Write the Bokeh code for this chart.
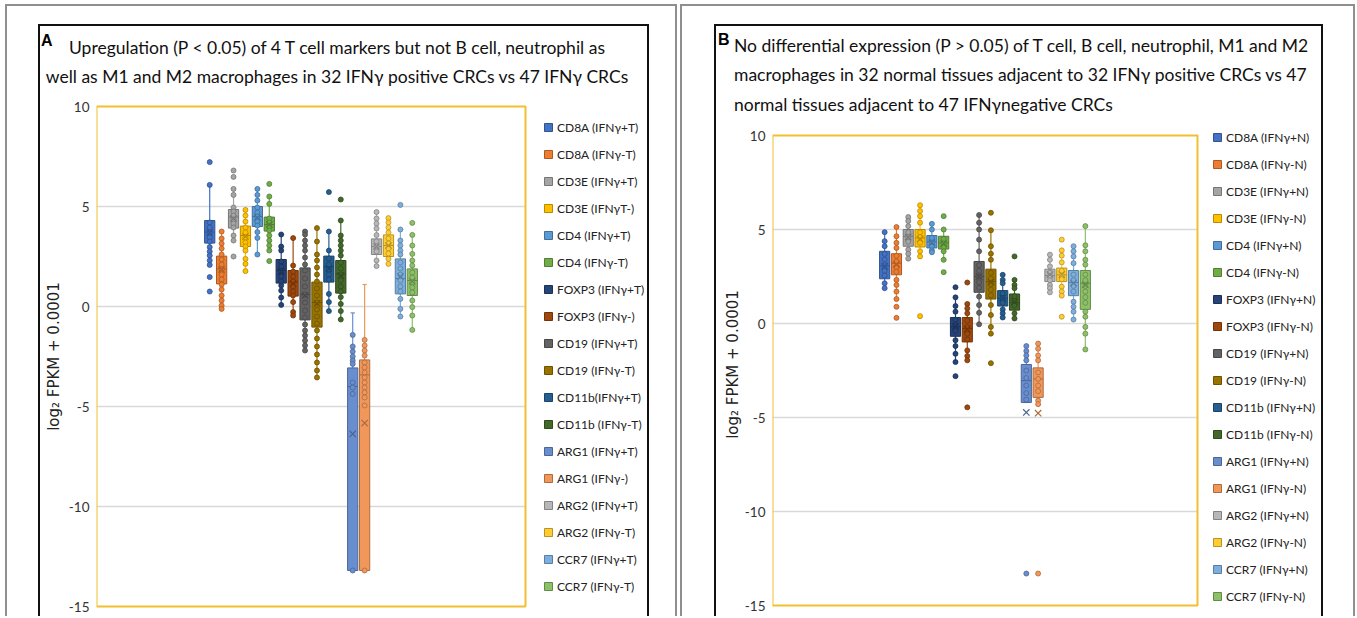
from bokeh.plotting import figure
from bokeh.models import Range1d, Legend, LegendItem, FixedTicker, Div
from bokeh.layouts import row, column
from bokeh.embed import file_html
from bokeh.resources import INLINE

# ---------------- data ----------------
colors = ["#4472C4", "#ED7D31", "#A5A5A5", "#FFC000", "#5B9BD5", "#70AD47",
          "#264478", "#9E480E", "#636363", "#997300", "#255E91", "#43682B",
          "#698ED0", "#F1975A", "#B7B7B7", "#FFCD33", "#7CAFDD", "#8CC168"]

labels_a = ["CD8A (IFNγ+T)", "CD8A (IFNγ-T)", "CD3E (IFNγ+T)", "CD3E (IFNγT-)",
            "CD4 (IFNγ+T)", "CD4 (IFNγ-T)", "FOXP3 (IFNγ+T)", "FOXP3 (IFNγ-)",
            "CD19 (IFNγ+T)", "CD19 (IFNγ-T)", "CD11b(IFNγ+T)", "CD11b (IFNγ-T)",
            "ARG1 (IFNγ+T)", "ARG1 (IFNγ-)", "ARG2 (IFNγ+T)", "ARG2 (IFNγ-T)",
            "CCR7 (IFNγ+T)", "CCR7 (IFNγ-T)"]
low_a = [2.08, -0.12, 3.3, 1.77, 2.6, 2.8, 0.08, -0.45, -2.2, -3.55, -0.23, -0.65,
         -13.2, -13.2, 2.02, 2.13, -0.5, -1.17]
q1_a = [3.17, 1.13, 3.92, 3.0, 4.0, 3.77, 1.17, 0.52, -0.67, -1.03, 1.22, 0.67,
        -13.2, -13.2, 2.6, 2.5, 0.63, 0.55]
med_a = [3.72, 1.88, 4.47, 3.55, 4.5, 4.1, 1.8, 1.22, 0.6, 0.2, 1.97, 1.63,
         -4.0, -3.42, 3.0, 3.05, 1.4, 1.3]
q3_a = [4.3, 2.52, 4.85, 4.02, 5.0, 4.47, 2.35, 1.8, 1.93, 1.22, 2.52, 2.3,
        -3.07, -2.67, 3.38, 3.58, 2.38, 1.88]
high_a = [6.08, 3.75, 5.88, 4.83, 5.88, 5.5, 3.6, 3.42, 3.75, 3.92, 3.75, 4.3,
          -0.32, 1.1, 4.72, 4.42, 3.85, 3.58]
mean_a = [3.7, 1.85, 4.4, 3.5, 4.45, 4.1, 1.75, 1.15, 0.55, 0.15, 1.9, 1.55,
          -6.37, -5.83, 3.0, 3.05, 1.5, 1.25]
points_a = [
    [7.22, 6.08, 4.2, 3.95, 3.7, 3.45, 3.25, 2.97, 2.75, 2.55, 2.3, 2.08, 1.47, 0.75],
    [3.75, 3.4, 3.15, 2.9, 2.6, 2.35, 2.1, 1.85, 1.6, 1.35, 1.1, 0.85, 0.55, 0.3, 0.05, -0.12],
    [6.8, 6.48, 5.88, 5.58, 4.95, 4.75, 4.55, 4.35, 4.15, 3.95, 3.55, 3.3, 2.5],
    [4.83, 4.55, 4.25, 3.95, 3.7, 3.45, 3.2, 3.0, 2.8, 2.38, 2.13, 1.77],
    [5.88, 5.58, 5.3, 4.95, 4.7, 4.5, 4.25, 4.05, 3.72, 3.43, 2.6],
    [6.13, 5.5, 5.13, 4.4, 4.2, 4.0, 3.8, 3.55, 3.3, 3.05, 2.8, 2.27],
    [3.6, 3.0, 2.8, 2.25, 2.0, 1.75, 1.5, 1.25, 1.05, 0.8, 0.45, 0.08],
    [3.42, 2.05, 1.75, 1.5, 1.25, 1.0, 0.75, 0.55, 0.22, -0.28, -0.45],
    [3.75, 3.6, 3.3, 3.05, 2.8, 2.45, 2.1, 1.8, 1.4, 1.0, 0.6, 0.2, -0.2, -0.55,
     -0.9, -1.2, -1.45, -1.7, -1.95, -2.2],
    [3.92, 3.25, 2.6, 2.3, 1.95, 1.6, 1.25, 0.9, 0.55, 0.2, -0.15, -0.5, -0.85,
     -1.2, -1.6, -2.0, -2.4, -2.8, -3.2, -3.55],
    [5.72, 3.75, 2.8, 2.4, 2.1, 1.85, 1.6, 1.35, 0.63, 0.22, -0.23],
    [5.35, 4.3, 3.55, 3.3, 3.05, 2.8, 2.55, 2.2, 1.9, 1.6, 1.3, 1.0, 0.75, 0.47,
     0.13, -0.23, -0.65],
    [-1.42, -2.0, -2.25, -2.5, -2.7, -2.87, -3.8, -4.05, -4.37, -13.2],
    [-1.67, -1.95, -2.2, -2.45, -2.8, -3.05, -3.3, -3.55, -3.8, -4.05, -4.3, -4.55,
     -4.95, -13.2],
    [4.72, 4.4, 4.15, 3.9, 3.57, 3.25, 3.0, 2.75, 2.3, 2.02],
    [4.42, 4.2, 3.95, 3.7, 3.4, 3.15, 2.9, 2.65, 2.38, 2.13],
    [5.08, 3.85, 3.3, 3.05, 2.8, 2.6, 2.2, 1.9, 1.6, 1.3, 1.0, 0.75, 0.38, -0.12, -0.5],
    [4.18, 3.58, 3.05, 2.63, 2.3, 2.05, 1.7, 1.45, 1.2, 0.95, 0.7, 0.3, -0.03, -0.45, -1.17],
]

labels_b = ["CD8A (IFNγ+N)", "CD8A (IFNγ-N)", "CD3E (IFNγ+N)", "CD3E (IFNγ-N)",
            "CD4 (IFNγ+N)", "CD4 (IFNγ-N)", "FOXP3 (IFNγ+N)", "FOXP3 (IFNγ-N)",
            "CD19 (IFNγ+N)", "CD19 (IFNγ-N)", "CD11b (IFNγ+N)", "CD11b (IFNγ-N)",
            "ARG1 (IFNγ+N)", "ARG1 (IFNγ-N)", "ARG2 (IFNγ+N)", "ARG2 (IFNγ-N)",
            "CCR7 (IFNγ+N)", "CCR7 (IFNγ-N)"]
low_b = [1.88, 1.3, 3.45, 3.57, 3.79, 3.39, -2.05, -1.96, -0.04, -0.54, 0.32, 0.27,
         -4.2, -4.29, 1.66, 1.48, 0.21, -1.38]
q1_b = [2.38, 2.59, 4.11, 4.07, 4.02, 3.96, -0.68, -0.98, 1.66, 1.3, 0.93, 0.71,
        -4.2, -3.93, 2.23, 2.23, 1.48, 0.75]
med_b = [3.07, 3.21, 4.64, 4.55, 4.34, 4.29, -0.18, -0.27, 2.5, 2.23, 1.34, 1.11,
         -3.04, -2.95, 2.55, 2.59, 2.18, 2.14]
q3_b = [3.84, 3.71, 5.0, 5.0, 4.68, 4.64, 0.32, 0.32, 3.3, 2.89, 1.75, 1.57,
        -2.18, -2.36, 2.89, 2.95, 2.82, 2.82]
high_b = [4.86, 5.13, 5.66, 6.29, 5.3, 5.0, 1.39, 1.04, 5.77, 4.96, 2.59, 2.32,
          -1.2, -1.07, 3.66, 3.89, 4.11, 5.18]
mean_b = [3.05, 3.15, 4.6, 4.5, 4.3, 4.25, -0.15, -0.3, 2.5, 2.2, 1.35, 1.15,
          -4.73, -4.77, 2.6, 2.6, 2.15, 2.05]
points_b = [
    [4.86, 4.38, 4.11, 3.7, 3.4, 3.1, 2.8, 2.55, 2.14, 1.88],
    [5.13, 4.64, 4.29, 4.02, 3.6, 3.3, 3.0, 2.75, 2.32, 2.05, 1.7, 1.3, 0.89, 0.3],
    [5.66, 5.45, 5.18, 4.85, 4.6, 4.35, 3.93, 3.71, 3.45],
    [6.29, 5.98, 5.71, 5.36, 4.85, 4.6, 4.3, 3.84, 3.57, 0.39],
    [5.3, 5.0, 4.55, 4.3, 4.1, 3.89, 3.79],
    [5.71, 5.0, 4.5, 4.25, 4.05, 3.84, 3.39, 2.73],
    [1.93, 1.39, 0.93, 0.63, 0.2, -0.1, -0.4, -0.89, -1.2, -1.61, -2.05, -2.8],
    [2.18, 1.04, 0.8, 0.54, 0.15, -0.2, -0.55, -0.85, -1.43, -1.73, -1.96, -4.46],
    [5.77, 5.36, 5.0, 4.46, 3.84, 3.1, 2.8, 2.5, 2.2, 1.9, 1.43, 0.98, 0.57, -0.04],
    [5.89, 4.96, 4.11, 3.71, 3.39, 2.7, 2.4, 2.1, 1.8, 1.5, 0.98, 0.45, -0.18, -0.54, -2.11],
    [2.59, 2.32, 2.14, 1.6, 1.35, 1.1, 0.75, 0.54, 0.32],
    [3.57, 2.32, 2.05, 1.88, 1.45, 1.2, 0.95, 0.54, 0.27],
    [-1.2, -1.46, -1.7, -1.96, -2.5, -2.9, -3.3, -3.7, -4.05, -13.3],
    [-1.07, -1.34, -1.7, -1.96, -2.6, -2.95, -3.3, -3.6, -4.1, -4.29, -13.3],
    [3.66, 3.39, 3.04, 2.7, 2.5, 2.3, 2.05, 1.88, 1.66],
    [4.46, 3.89, 3.61, 3.25, 2.8, 2.55, 2.35, 1.96, 1.7, 1.48, 0.36],
    [4.11, 3.84, 3.57, 3.21, 2.6, 2.3, 2.0, 1.7, 1.16, 0.89, 0.63, 0.21],
    [5.18, 4.16, 3.84, 3.39, 3.13, 2.6, 2.3, 2.0, 1.7, 1.4, 1.1, 0.63, 0.36, -0.18, -0.54, -1.38],
]

y_ticks = [-15, -10, -5, 0, 5, 10]
y_tick_labels = ["-15", "-10", "-5", "0", "5", "10"]
grid_vals = [-10, -5, 0, 5]
y_label = "log\u2082 FPKM + 0.0001"

title_a = ["Upregulation (P <  0.05) of 4 T cell markers but not B cell, neutrophil as",
           "well as M1 and M2 macrophages in 32 IFNγ positive CRCs vs 47 IFNγ CRCs"]
title_b = ["No differential expression (P > 0.05) of T cell, B cell, neutrophil, M1 and M2",
           "macrophages in 32 normal tissues adjacent to 32 IFNγ positive CRCs vs 47",
           "normal tissues adjacent to 47 IFNγnegative CRCs"]

# ---------------- helpers ----------------
FONT = "Lato"
TOTAL_H = 616
YELLOW = "#F2C02E"


def darker(c, f=0.72):
    r, g, b = int(c[1:3], 16), int(c[3:5], 16), int(c[5:7], 16)
    return "#%02x%02x%02x" % (int(r * f), int(g * f), int(b * f))


def frame_shadow(gray, black):
    gl, gl2, gt, gt2, gr, gr2 = gray
    bl, bl2, bt, bt2, br, br2 = black
    layers = []
    if gl: layers.append("inset %dpx 0 0 0 #ffffff" % gl)
    if gt: layers.append("inset 0 %dpx 0 0 #ffffff" % gt)
    if gr: layers.append("inset -%dpx 0 0 0 #ffffff" % gr)
    layers += ["inset %dpx 0 0 0 #8f8f8f" % gl2, "inset 0 %dpx 0 0 #8f8f8f" % gt2,
               "inset -%dpx 0 0 0 #8f8f8f" % gr2,
               "inset %dpx 0 0 0 #ffffff" % bl, "inset 0 %dpx 0 0 #ffffff" % bt,
               "inset -%dpx 0 0 0 #ffffff" % br,
               "inset %dpx 0 0 0 #111111" % bl2, "inset 0 %dpx 0 0 #111111" % bt2,
               "inset -%dpx 0 0 0 #111111" % br2]
    return ", ".join(layers)


def make_panel(width, fig_h, left, right, top, bottom, box_px_w, box_top_px, box_bot_px,
               labels, lo, q1, med, q3, hi, mean, pts, legend_xy, label_standoff):
    frame_w = width - left - right
    frame_h = fig_h - top - bottom
    ppu_x = box_px_w / 36.0
    x_end = -18 + frame_w / ppu_x
    ppu_y = (box_bot_px - box_top_px) / 25.0
    y_top = 10 + box_top_px / ppu_y
    y_bot = -15 - (frame_h - box_bot_px) / ppu_y
    p = figure(width=width, height=fig_h, x_range=Range1d(-18, x_end),
               y_range=Range1d(y_bot, y_top),
               output_backend="svg", toolbar_location=None, title=None,
               min_border_left=left, min_border_right=right,
               min_border_top=top, min_border_bottom=bottom,
               border_fill_color=None, background_fill_color=None, margin=0)
    p.xaxis.visible = False
    p.grid.visible = False
    p.outline_line_color = None
    ax = p.yaxis[0]
    ax.ticker = FixedTicker(ticks=y_ticks)
    ax.major_label_overrides = {t: s for t, s in zip(y_ticks, y_tick_labels)}
    ax.axis_line_color = None
    ax.major_tick_line_color = None
    ax.minor_tick_line_color = None
    ax.major_tick_out = 0
    ax.major_label_standoff = 7
    ax.major_label_text_font = FONT
    ax.major_label_text_font_size = "13.5px"
    ax.major_label_text_color = "#333333"
    ax.axis_label = y_label
    ax.axis_label_text_font = "DejaVu Sans"
    ax.axis_label_text_font_size = "15px"
    ax.axis_label_text_font_style = "normal"
    ax.axis_label_text_color = "#222222"
    ax.axis_label_standoff = label_standoff

    p.segment(x0=[-18] * len(grid_vals), y0=grid_vals, x1=[18] * len(grid_vals), y1=grid_vals,
              line_color="#D9D9D9", line_width=1.5)
    p.quad(left=[-18], right=[18], bottom=[-15], top=[10], fill_color=None,
           line_color=YELLOW, line_width=2)

    items = []
    for i in range(len(labels)):
        x = i - 8.5
        c = colors[i]
        d = darker(c)
        p.segment(x0=[x], y0=[lo[i]], x1=[x], y1=[hi[i]], line_color=c, line_width=1.2)
        p.segment(x0=[x - 0.18, x - 0.18], y0=[lo[i], hi[i]], x1=[x + 0.18, x + 0.18],
                  y1=[lo[i], hi[i]], line_color=c, line_width=1.2)
        r = p.vbar(x=[x], bottom=[q1[i]], top=[q3[i]], width=0.86, fill_color=c,
                   line_color=d, line_width=1)
        p.segment(x0=[x - 0.43], y0=[med[i]], x1=[x + 0.43], y1=[med[i]],
                  line_color=d, line_width=1)
        p.scatter(x=[x] * len(pts[i]), y=pts[i], marker="circle", size=5,
                  fill_color=c, line_color=d, line_width=0.8)
        p.scatter(x=[x], y=[mean[i]], marker="x", size=9, line_color=d, line_width=1.2)
        items.append(LegendItem(label=labels[i], renderers=[r]))

    leg = Legend(items=items, location=legend_xy, orientation="vertical",
                 glyph_width=10, glyph_height=10, label_height=20, spacing=7,
                 padding=0, margin=0, label_standoff=4,
                 label_text_font=FONT, label_text_font_size="12px",
                 label_text_color="#222222",
                 border_line_color=None, background_fill_alpha=0)
    p.add_layout(leg)
    return p


def title_div(width, height, letter, letter_pos, lines, text_left, text_width, align,
              top, line_h, size):
    html = ('<div style="position:relative;width:%dpx;height:%dpx;">'
            '<span style="position:absolute;left:%dpx;top:%dpx;font-family:\'Liberation Sans\';'
            'font-weight:bold;font-size:16px;line-height:18px;color:#000;">%s</span>'
            '<div style="position:absolute;left:%dpx;top:%spx;width:%dpx;text-align:%s;'
            'font-family:Lato;font-size:%spx;line-height:%spx;color:#111;white-space:nowrap;">%s</div>'
            '</div>') % (width, height, letter_pos[0], letter_pos[1], letter,
                         text_left, top, text_width, align, size, line_h, "<br>".join(lines))
    return Div(text=html, width=width, height=height, margin=0)


# panel A : page x 0..678 ; frame x 96..658, y 104..608 ; yellow box x 96..525, y 106..606
div_a = title_div(678, 96, "A", (41, 32), title_a, 0, 674, "center", 32.5, 29, 17.5)
fig_a = make_panel(678, TOTAL_H - 96, 96, 20, 8, 8, 429, 2, 502,
                   labels_a, low_a, q1_a, med_a, q3_a, high_a, mean_a, points_a,
                   (447, 12), 3)
col_a = column(div_a, fig_a, margin=0,
               styles={"box-shadow": frame_shadow((5, 7, 4, 6, 1, 3), (38, 40, 24, 26, 29, 31))})

# panel B : page x 678..1355 ; frame x 772..1333, y 120..608 ; yellow box x 772..1197, y 135..605
div_b = title_div(677, 112, "B", (40, 31), title_b, 56, 615, "left", 30.5, 29.5, 17.5)
fig_b = make_panel(677, TOTAL_H - 112, 94, 22, 8, 8, 425, 15, 485,
                   labels_b, low_b, q1_b, med_b, q3_b, high_b, mean_b, points_b,
                   (440, 2), 0)
col_b = column(div_b, fig_b, margin=0,
               styles={"box-shadow": frame_shadow((2, 4, 4, 6, 0, 2), (36, 38, 24, 26, 32, 34))})

layout = row(col_a, col_b, margin=0)
open("out.html", "w").write(file_html(layout, INLINE))
